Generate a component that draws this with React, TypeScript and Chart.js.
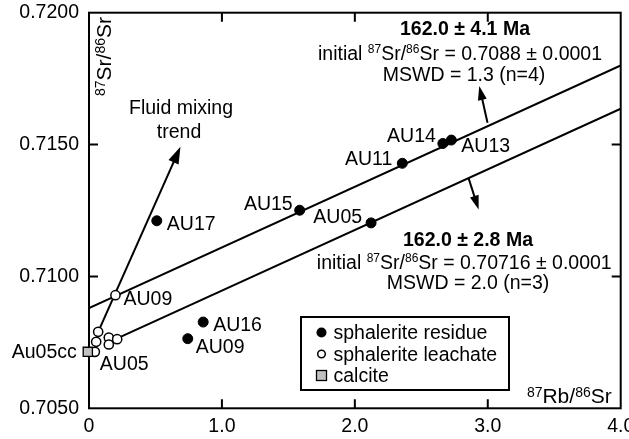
import React, { useEffect, useRef } from 'react';
import { Chart, registerables } from 'chart.js';

Chart.register(...registerables);

const FONT = '"Liberation Sans", Arial, Helvetica, sans-serif';

// ---- axes ----
const X_MIN = 0;
const X_MAX = 4;
const X_STEP = 1;
const Y_MIN = 0.705;
const Y_MAX = 0.72;
const Y_STEP = 0.005;

// ---- sphalerite residue (filled) ----
const residueNames = ['AU17', 'AU15', 'AU05', 'AU11', 'AU14', 'AU13', 'AU16', 'AU09'];
const residueX = [0.51, 1.585, 2.122, 2.357, 2.662, 2.726, 0.859, 0.743];
const residueY = [0.71211, 0.71251, 0.71203, 0.71429, 0.71504, 0.71517, 0.70827, 0.70764];

// ---- sphalerite leachate (open) ----
const leachateNames = ['AU09', '', '', '', '', '', 'AU05'];
const leachateX = [0.199, 0.069, 0.054, 0.149, 0.149, 0.212, 0.044];
const leachateY = [0.70929, 0.7079, 0.70752, 0.70768, 0.70742, 0.70762, 0.70714];

// ---- calcite ----
const calciteNames = ['Au05cc'];
const calciteX = [-0.009];
const calciteY = [0.70714];

// ---- isochrons ----
const upperIsoX = [0, 4];
const upperIsoY = [0.7088, 0.718];
const lowerIsoX = [0.212, 4];
const lowerIsoY = [0.70765, 0.71636];

// ---- arrows (start -> tip) ----
const mixingArrowX = [0.069, 0.688];
const mixingArrowY = [0.7079, 0.71492];
const upperAgeArrowX = [2.998, 2.936];
const upperAgeArrowY = [0.71583, 0.71722];
const lowerAgeArrowX = [2.856, 2.931];
const lowerAgeArrowY = [0.71372, 0.71254];

// ---- texts ----
const upperAge = '162.0 ± 4.1 Ma';
const upperInitial = '0.7088 ± 0.0001';
const upperMswd = 'MSWD = 1.3 (n=4)';
const lowerAge = '162.0 ± 2.8 Ma';
const lowerInitial = '0.70716 ± 0.0001';
const lowerMswd = 'MSWD = 2.0 (n=3)';
const legendNames = ['sphalerite residue', 'sphalerite leachate', 'calcite'];

type Seg = { t: string; sup?: boolean };
type Align = 'left' | 'right' | 'center';

const labelPlacement: Record<string, { align: Align; dx: number; dy: number }> = {
  'r:AU17': { align: 'left', dx: 10, dy: 2 },
  'r:AU15': { align: 'right', dx: -7, dy: -7 },
  'r:AU05': { align: 'right', dx: -9, dy: -7 },
  'r:AU11': { align: 'right', dx: -10, dy: -5 },
  'r:AU14': { align: 'right', dx: -7, dy: -8 },
  'r:AU13': { align: 'left', dx: 10, dy: 5 },
  'r:AU16': { align: 'left', dx: 10, dy: 2 },
  'r:AU09': { align: 'left', dx: 8, dy: 7 },
  'l:AU09': { align: 'left', dx: 8, dy: 3 },
  'l:AU05': { align: 'left', dx: 5, dy: 11 },
  'c:Au05cc': { align: 'right', dx: -11, dy: -1 },
};

function font(size: number, bold = false) {
  return `${bold ? 'bold ' : ''}${size}px ${FONT}`;
}

function drawRich(
  ctx: CanvasRenderingContext2D,
  segs: Seg[],
  x: number,
  yCenter: number,
  size: number,
  supSize: number,
  bold = false,
  align: Align = 'center'
) {
  let total = 0;
  const widths: number[] = [];
  for (const s of segs) {
    ctx.font = font(s.sup ? supSize : size, bold);
    const w = ctx.measureText(s.t).width;
    widths.push(w);
    total += w;
  }
  let cx = align === 'center' ? x - total / 2 : align === 'left' ? x : x - total;
  const base = yCenter + 0.358 * size;
  const raise = 0.716 * (size - supSize) + 1.5;
  ctx.textAlign = 'left';
  ctx.textBaseline = 'alphabetic';
  segs.forEach((s, i) => {
    ctx.font = font(s.sup ? supSize : size, bold);
    ctx.fillText(s.t, cx, s.sup ? base - raise : base);
    cx += widths[i];
  });
}

function drawArrow(
  ctx: CanvasRenderingContext2D,
  x0: number,
  y0: number,
  x1: number,
  y1: number,
  len: number,
  half: number
) {
  const a = Math.atan2(y1 - y0, x1 - x0);
  const c = Math.cos(a);
  const s = Math.sin(a);
  ctx.beginPath();
  ctx.moveTo(x0, y0);
  ctx.lineTo(x1 - c * len * 0.7, y1 - s * len * 0.7);
  ctx.stroke();
  const bx = x1 - c * len;
  const by = y1 - s * len;
  ctx.beginPath();
  ctx.moveTo(x1, y1);
  ctx.lineTo(bx - s * half, by + c * half);
  ctx.lineTo(bx + s * half, by - c * half);
  ctx.closePath();
  ctx.fill();
}

const overlayPlugin = {
  id: 'overlay',
  beforeDatasetsDraw(chart: any) {
    const { ctx, chartArea: a, scales } = chart;
    ctx.save();
    ctx.strokeStyle = '#000';
    ctx.lineWidth = 2;
    ctx.strokeRect(a.left, a.top, a.right - a.left, a.bottom - a.top);
    const T = 9;
    ctx.beginPath();
    for (const t of scales.x.ticks) {
      if (t.value <= X_MIN || t.value >= X_MAX) continue;
      const px = scales.x.getPixelForValue(t.value);
      ctx.moveTo(px, a.bottom);
      ctx.lineTo(px, a.bottom - T);
      ctx.moveTo(px, a.top);
      ctx.lineTo(px, a.top + T);
    }
    for (const t of scales.y.ticks) {
      if (t.value <= Y_MIN + 1e-9 || t.value >= Y_MAX - 1e-9) continue;
      const py = scales.y.getPixelForValue(t.value);
      ctx.moveTo(a.left, py);
      ctx.lineTo(a.left + T, py);
      ctx.moveTo(a.right, py);
      ctx.lineTo(a.right - T, py);
    }
    ctx.stroke();

    // arrows
    ctx.fillStyle = '#000';
    const X = (v: number) => scales.x.getPixelForValue(v);
    const Y = (v: number) => scales.y.getPixelForValue(v);
    drawArrow(ctx, X(mixingArrowX[0]), Y(mixingArrowY[0]), X(mixingArrowX[1]), Y(mixingArrowY[1]), 17, 5.5);
    drawArrow(ctx, X(upperAgeArrowX[0]), Y(upperAgeArrowY[0]), X(upperAgeArrowX[1]), Y(upperAgeArrowY[1]), 14, 4.5);
    drawArrow(ctx, X(lowerAgeArrowX[0]), Y(lowerAgeArrowY[0]), X(lowerAgeArrowX[1]), Y(lowerAgeArrowY[1]), 14, 4.5);
    ctx.restore();
  },
  afterDatasetsDraw(chart: any) {
    const { ctx } = chart;
    ctx.save();
    ctx.fillStyle = '#000';

    // axis titles
    drawRich(ctx, [{ t: '87', sup: true }, { t: 'Rb/' }, { t: '86', sup: true }, { t: 'Sr' }], 611.7, 395.8, 21, 14, false, 'right');
    ctx.save();
    ctx.translate(103.5, 56.5);
    ctx.rotate(-Math.PI / 2);
    drawRich(ctx, [{ t: '87', sup: true }, { t: 'Sr/' }, { t: '86', sup: true }, { t: 'Sr' }], 0, 0, 21, 14, false, 'center');
    ctx.restore();

    // annotations
    const S = 19.5;
    const SS = 12;
    drawRich(ctx, [{ t: 'Fluid mixing' }], 181, 107, S, SS);
    drawRich(ctx, [{ t: 'trend' }], 179, 131.5, S, SS);

    drawRich(ctx, [{ t: upperAge }], 465, 28.3, S, SS, true);
    drawRich(ctx, [{ t: 'initial ' }, { t: '87', sup: true }, { t: 'Sr/' }, { t: '86', sup: true }, { t: 'Sr = ' + upperInitial }], 460, 53.3, S, SS);
    drawRich(ctx, [{ t: upperMswd }], 464, 74, S, SS);

    drawRich(ctx, [{ t: lowerAge }], 468, 239.3, S, SS, true);
    drawRich(ctx, [{ t: 'initial ' }, { t: '87', sup: true }, { t: 'Sr/' }, { t: '86', sup: true }, { t: 'Sr = ' + lowerInitial }], 611.7, 261.7, S, SS, false, 'right');
    drawRich(ctx, [{ t: lowerMswd }], 468, 281.7, S, SS);

    // point labels
    chart.data.datasets.forEach((ds: any, di: number) => {
      if (!ds.pointNames) return;
      const meta = chart.getDatasetMeta(di);
      ds.pointNames.forEach((name: string, i: number) => {
        if (!name) return;
        const p = labelPlacement[`${ds.group}:${name}`];
        const el = meta.data[i];
        if (!p || !el) return;
        drawRich(ctx, [{ t: name }], el.x + p.dx, el.y + p.dy, S, SS, false, p.align);
      });
    });

    // legend
    const bx = 301, by = 317, bw = 208, bh = 73;
    ctx.fillStyle = '#fff';
    ctx.fillRect(bx, by, bw, bh);
    ctx.strokeStyle = '#000';
    ctx.lineWidth = 2;
    ctx.strokeRect(bx, by, bw, bh);
    const rows = [332.5, 354, 375.5];
    const mx = 321.5;
    ctx.fillStyle = '#000';
    ctx.beginPath();
    ctx.arc(mx, rows[0], 5, 0, Math.PI * 2);
    ctx.fill();
    ctx.beginPath();
    ctx.arc(mx, rows[1], 3.8, 0, Math.PI * 2);
    ctx.fillStyle = '#fff';
    ctx.fill();
    ctx.lineWidth = 1.5;
    ctx.stroke();
    ctx.fillStyle = '#c0c0c0';
    ctx.fillRect(mx - 5, rows[2] - 5, 10, 10);
    ctx.lineWidth = 1.3;
    ctx.strokeRect(mx - 5, rows[2] - 5, 10, 10);
    ctx.fillStyle = '#000';
    legendNames.forEach((n, i) => drawRich(ctx, [{ t: n }], 333.5, rows[i], S, SS, false, 'left'));
    ctx.restore();
  },
};

export default function App() {
  const ref = useRef<HTMLCanvasElement | null>(null);

  useEffect(() => {
    if (!ref.current) return;
    const line = (xs: number[], ys: number[]) => xs.map((x, i) => ({ x, y: ys[i] }));
    const chart = new Chart(ref.current, {
      type: 'scatter',
      data: {
        datasets: [
          {
            label: 'sphalerite residue',
            group: 'r',
            pointNames: residueNames,
            data: line(residueX, residueY),
            pointRadius: 5,
            pointBackgroundColor: '#000',
            pointBorderColor: '#000',
            pointBorderWidth: 1,
            order: 1,
          } as any,
          {
            label: 'sphalerite leachate',
            group: 'l',
            pointNames: leachateNames,
            data: line(leachateX, leachateY),
            pointRadius: 4.6,
            pointBackgroundColor: '#fff',
            pointBorderColor: '#000',
            pointBorderWidth: 1.5,
            order: 1,
          } as any,
          {
            label: 'calcite',
            group: 'c',
            pointNames: calciteNames,
            data: line(calciteX, calciteY),
            pointStyle: 'rect',
            pointRadius: 6.5,
            pointBackgroundColor: '#c0c0c0',
            pointBorderColor: '#000',
            pointBorderWidth: 1.3,
            clip: false,
            order: 0,
          } as any,
          {
            label: 'upper isochron',
            data: line(upperIsoX, upperIsoY),
            showLine: true,
            borderColor: '#000',
            borderWidth: 2,
            pointRadius: 0,
            order: 5,
          } as any,
          {
            label: 'lower isochron',
            data: line(lowerIsoX, lowerIsoY),
            showLine: true,
            borderColor: '#000',
            borderWidth: 2,
            pointRadius: 0,
            order: 5,
          } as any,
        ],
      },
      options: {
        animation: false,
        responsive: false,
        devicePixelRatio: 1,
        events: [],
        layout: { padding: { top: 12.7, right: 8.3, left: 0, bottom: 0 } },
        plugins: { legend: { display: false }, tooltip: { enabled: false } },
        scales: {
          x: {
            type: 'linear',
            min: X_MIN,
            max: X_MAX,
            grid: { display: false, drawTicks: false },
            border: { display: false },
            ticks: {
              stepSize: X_STEP,
              autoSkip: false,
              maxRotation: 0,
              padding: 7,
              color: '#000',
              font: { family: FONT, size: 19.5 },
              callback: (v: any) => (Number(v) === 0 ? '0' : Number(v).toFixed(1)),
            },
            afterFit: (s: any) => {
              s.height = 439 - 408.3;
              s.paddingLeft = 0;
              s.paddingRight = 0;
            },
          },
          y: {
            type: 'linear',
            min: Y_MIN,
            max: Y_MAX,
            grid: { display: false, drawTicks: false },
            border: { display: false },
            ticks: {
              stepSize: Y_STEP,
              autoSkip: false,
              padding: 10,
              color: '#000',
              font: { family: FONT, size: 19.5 },
              callback: (v: any) => Number(v).toFixed(4),
            },
            afterFit: (s: any) => {
              s.width = 89;
              s.paddingTop = 0;
              s.paddingBottom = 0;
            },
          },
        },
      } as any,
      plugins: [overlayPlugin],
    });
    return () => chart.destroy();
  }, []);

  return (
    <div style={{ position: 'absolute', left: 0, top: 0, width: 629, height: 439, background: '#fff' }}>
      <canvas ref={ref} width={629} height={439} style={{ display: 'block' }} />
    </div>
  );
}
